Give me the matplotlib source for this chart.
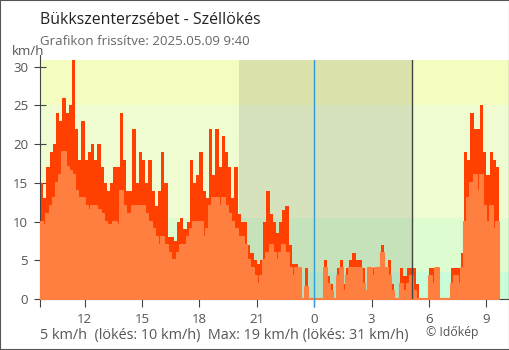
import matplotlib.pyplot as plt
import matplotlib.dates as mdates
from matplotlib.patches import Rectangle
from matplotlib.ticker import FixedLocator, FuncFormatter
import pandas as pd

plt.rcParams['font.family'] = ['Open Sans', 'DejaVu Sans']

title = "Bükkszenterzsébet - Széllökés"
updated = "Grafikon frissítve: 2025.05.09 9:40"
current_wind = 5
current_gust = 10

# 10 minute readings, km/h
times = pd.date_range("2025-05-08 09:40", periods=144, freq="10min")
gust = [15, 13, 17, 19, 20, 24, 23, 26, 24, 25, 31, 22, 18, 23, 18, 19, 20, 18, 20, 17, 15, 14, 15, 17, 17,
        24, 18, 14, 14, 22, 15, 19, 18, 15, 18, 14, 12, 14, 19, 15, 8, 8, 7.5, 10, 10.5, 9, 10, 18, 15, 16,
        19, 14, 13, 22, 16, 22, 17, 21, 19, 17, 13, 17, 11, 10, 10, 7, 6, 5, 4.5, 5, 10, 14, 11, 10, 8.5,
        10, 11.5, 12, 7, 4.5, 4.5, 4, 0, 4, 0, 0, 0, 0, 0, 5, 3, 2, 0, 4, 5, 2, 4, 5, 6, 5,
        5, 4, 1, 4, 4, 4, 4, 7, 4, 5, 2, 0, 0, 4, 3, 4, 4, 4, 2, 0, 0, 0, 4, 4, 4,
        0, 0, 0, 0, 4, 4, 4, 6, 19, 18, 24, 22, 22, 25, 19, 16, 19, 18, 17]
wind = [10, 9.5, 11, 12, 13, 15, 16, 19, 17, 16.5, 16, 14, 13, 13, 12, 11.5, 12, 12, 11.5, 11, 10, 9.5, 9.5, 10, 9.5,
        14, 12, 11, 11, 12, 12, 12, 12, 11, 10, 9, 8, 7, 8, 7, 6, 5, 5, 6, 7, 7, 8, 9, 10, 10,
        10, 8, 9, 12, 13, 13, 12, 13, 12, 11, 10, 9, 8, 8, 7, 5, 4, 3, 2, 3, 5, 6, 7, 6, 5,
        6, 7, 6, 4, 3, 4, 4, 0, 1.5, 0, 0, 0, 0, 0, 4, 2, 1, 0, 3, 4, 1, 3, 4, 4, 4,
        4, 2, 1, 4, 3, 4, 4, 6, 4, 3, 1, 0, 0, 2, 1, 2, 3, 1, 0, 0, 0, 0, 3, 2, 4,
        0, 0, 0, 0, 2, 3, 2, 4, 10, 13, 15, 16, 14, 16, 12, 10, 12, 9, 10]

sunset = pd.Timestamp("2025-05-08 20:04")
sunrise = pd.Timestamp("2025-05-09 05:07")
midnight = pd.Timestamp("2025-05-09 00:00")
view_end = pd.Timestamp("2025-05-09 10:11")

# background bands by wind strength
band_edges = [0, 3.5, 10.5, 25, 31]
band_colors = ["#c9fcd9", "#ddfcd0", "#effcd2", "#f5fcc0"]

fig = plt.figure(figsize=(5.1, 3.5), dpi=100)
ax = fig.add_axes([40 / 510, 51 / 350, 469 / 510, 239 / 350])

for lo, hi, c in zip(band_edges[:-1], band_edges[1:], band_colors):
    ax.axhspan(lo, hi, color=c, lw=0, zorder=0)
ax.axvspan(sunset, sunrise, color="black", alpha=0.1, lw=0, zorder=1)

# step edges so the last reading keeps its width
edges = list(times) + [times[-1] + pd.Timedelta(minutes=10)]
ax.fill_between(edges, gust + [gust[-1]], step="post", color="#ff4000", lw=0, zorder=2)
ax.fill_between(edges, wind + [wind[-1]], step="post", color="#ff7f40",
                edgecolor="#ff7f40", lw=1.5, zorder=3)

ax.axvline(midnight, color="#3399dd", lw=1, ymin=-0.03, clip_on=False, zorder=4)
ax.axvline(sunrise, color="#444444", lw=1, zorder=4)

ax.set_xlim(times[0], view_end)
ax.set_ylim(0, 30.87)

for side in ["left", "right", "bottom"]:
    ax.spines[side].set_color("#444444")
ax.spines["top"].set_visible(False)
ax.spines["left"].set_bounds(0, 31.5)

xt = [times[0]] + list(pd.date_range("2025-05-08 12:00", "2025-05-09 09:00", freq="3h"))
ax.xaxis.set_major_locator(FixedLocator([mdates.date2num(t) for t in xt]))
first = mdates.date2num(times[0])
ax.xaxis.set_major_formatter(FuncFormatter(
    lambda v, pos: "" if abs(v - first) < 1e-6 else str(mdates.num2date(v).hour)))
ax.set_yticks(range(0, 31, 5))

ax.tick_params(axis="x", direction="out", length=6, color="#444444", labelsize=9.5,
               labelcolor="#555555", pad=4)
ax.tick_params(axis="y", direction="inout", length=9, color="#444444", labelsize=9.5,
               labelcolor="#555555", pad=4)

fig.text(40 / 510, 1 - 24 / 350, title, fontsize=11.4, color="#222222", va="baseline")
fig.text(40 / 510, 1 - 45 / 350, updated, fontsize=9.5, color="#666666", va="baseline")
fig.text(12 / 510, 1 - 55 / 350, "km/h", fontsize=9.5, color="#555555", va="baseline")

caption = (f"{current_wind} km/h  (lökés: {current_gust} km/h)  "
           f"Max: {max(wind):.0f} km/h (lökés: {max(gust):.0f} km/h)")
fig.text(40 / 510, 1 - 339 / 350, caption, fontsize=10.4, color="#555555", va="baseline")
fig.text(426 / 510, 1 - 336 / 350, "© Időkép", fontsize=8.8, color="#555555", va="baseline")

fig.patches.append(Rectangle((0, 0), 1, 1, transform=fig.transFigure, fill=False,
                             edgecolor="#555555", lw=1.5))

fig.savefig("out.png", dpi=100)
